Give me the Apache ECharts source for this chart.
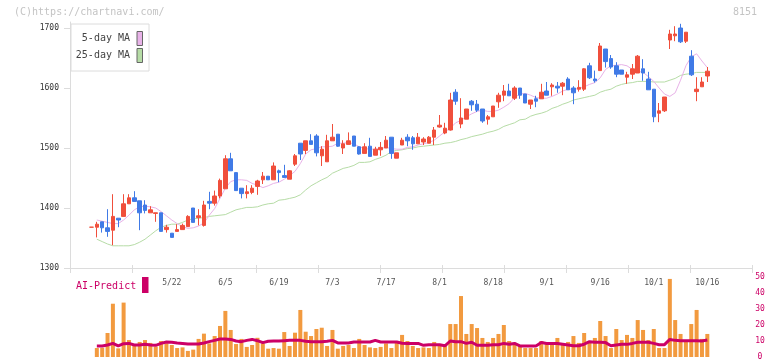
<!DOCTYPE html>
<html>
<head>
<meta charset="utf-8">
<script src="https://cdn.jsdelivr.net/npm/echarts@6/dist/echarts.min.js"></script>
<style>
html,body{margin:0;padding:0;background:#fff;}
#chart{width:772px;height:361px;}
</style>
</head>
<body>
<div id="chart"></div>
<script>
// ---------- data ----------
const dates = ['4/28','4/30','5/1','5/2','5/7','5/8','5/9','5/12','5/13','5/14','5/15','5/16','5/19','5/20','5/21','5/22','5/23','5/26','5/27','5/28','5/29','5/30',
'6/2','6/3','6/4','6/5','6/6','6/9','6/10','6/11','6/12','6/13','6/16','6/17','6/18','6/19','6/20','6/23','6/24','6/25','6/26','6/27','6/30',
'7/1','7/2','7/3','7/4','7/7','7/8','7/9','7/10','7/11','7/14','7/15','7/16','7/17','7/18','7/22','7/23','7/24','7/25','7/28','7/29','7/30','7/31',
'8/1','8/4','8/5','8/6','8/7','8/8','8/12','8/13','8/14','8/15','8/18','8/19','8/20','8/21','8/22','8/25','8/26','8/27','8/28','8/29',
'9/1','9/2','9/3','9/4','9/5','9/8','9/9','9/10','9/11','9/12','9/16','9/17','9/18','9/19','9/22','9/24','9/25','9/26','9/29','9/30',
'10/1','10/2','10/3','10/6','10/7','10/8','10/9','10/10','10/14','10/15','10/16'];

const labelDates = ['5/22','6/5','6/19','7/3','7/17','8/1','8/18','9/1','9/16','10/1','10/16'];
const priceTicks = [1300,1400,1500,1600,1700];
const volumeTicks = [0,10,20,30,40,50];

const openP = [1368,1368,1377,1367,1363,1383,1386,1407,1417,1412,1405,1392,1391,1392,1364,1358,1361,1364,1369,1400,1384,1371,
1411,1408,1420,1432,1482,1459,1433,1424,1426,1436,1447,1453,1447,1462,1454,1448,1473,1508,1496,1512,1520,
1487,1477,1512,1523,1500,1506,1520,1502,1491,1503,1488,1497,1500,1518,1483,1505,1518,1517,1507,1510,1508,1518,
1535,1525,1530,1593,1540,1548,1578,1573,1565,1548,1552,1577,1588,1595,1583,1600,1590,1573,1582,1582,
1595,1602,1603,1603,1615,1600,1598,1598,1637,1615,1629,1665,1649,1637,1630,1618,1623,1625,1632,1615,
1598,1558,1562,1680,1687,1700,1678,1653,1594,1602,1620];
const closeP = [1368,1373,1367,1361,1386,1380,1407,1417,1411,1392,1396,1397,1392,1361,1368,1351,1364,1371,1386,1376,1387,1405,
1408,1420,1446,1482,1462,1429,1424,1427,1433,1445,1453,1447,1470,1459,1451,1462,1487,1490,1512,1506,1492,
1498,1512,1518,1503,1507,1512,1503,1490,1502,1486,1498,1501,1513,1491,1492,1513,1512,1507,1518,1515,1518,1530,
1538,1533,1580,1578,1550,1565,1572,1563,1545,1552,1570,1588,1595,1587,1600,1588,1575,1580,1578,1593,
1588,1605,1600,1608,1597,1592,1601,1632,1617,1612,1670,1644,1635,1623,1623,1622,1632,1653,1625,1597,
1552,1562,1585,1690,1690,1677,1693,1622,1598,1610,1628];
const lowP = [1368,1351,1359,1352,1338,1368,1386,1407,1411,1363,1391,1392,1377,1361,1359,1351,1361,1364,1369,1376,1371,1369,
1398,1404,1416,1432,1462,1429,1416,1416,1423,1422,1440,1447,1447,1443,1451,1448,1470,1480,1490,1506,1486,
1470,1477,1512,1502,1490,1506,1503,1489,1491,1486,1488,1487,1500,1482,1483,1505,1503,1497,1507,1505,1508,1505,
1534,1523,1529,1572,1533,1548,1562,1560,1542,1539,1552,1567,1578,1587,1580,1582,1575,1565,1568,1582,
1588,1587,1592,1588,1597,1573,1594,1595,1615,1609,1629,1634,1632,1618,1623,1607,1615,1625,1612,1597,
1543,1543,1560,1665,1678,1675,1675,1620,1578,1602,1610];
const highP = [1368,1377,1377,1398,1423,1383,1423,1423,1428,1412,1413,1403,1392,1392,1372,1358,1373,1374,1388,1400,1398,1412,
1427,1429,1449,1488,1492,1459,1433,1438,1438,1447,1460,1453,1476,1464,1472,1463,1490,1508,1512,1523,1523,
1503,1522,1540,1523,1513,1526,1520,1503,1508,1517,1502,1510,1520,1518,1492,1517,1523,1520,1525,1518,1520,1535,
1555,1542,1592,1598,1583,1565,1580,1580,1565,1555,1570,1592,1605,1607,1603,1600,1590,1580,1587,1607,
1610,1608,1610,1610,1618,1603,1613,1633,1642,1629,1675,1665,1655,1643,1630,1627,1640,1655,1648,1627,
1598,1575,1585,1697,1703,1707,1693,1663,1618,1618,1635];

const ma5 = [null,1380,1378,1376,1374,1374,1380,1388,1397,1402,1403,1402,1400,1394,1387,1380,1374,1369,1366,1367,1370,1375,
1388,1399,1416,1433,1444,1447,1447,1446,1441,1438,1434,1437,1441,1443,1448,1454,1461,1474,1490,1497,1499,
1502,1502,1503,1508,1508,1509,1507,1502,1499,1498,1498,1499,1501,1499,1498,1498,1501,1502,1505,1507,1509,1513,
1520,1527,1533,1542,1546,1552,1557,1561,1563,1561,1561,1563,1568,1574,1584,1590,1591,1588,1584,1583,
1583,1586,1590,1595,1598,1598,1599,1602,1606,1609,1617,1631,1637,1638,1639,1637,1631,1628,1626,1619,
1611,1600,1590,1586,1592,1613,1637,1652,1657,1645,1634];
const ma25 = [null,1348,1344,1340,1337,1337,1337,1337,1339,1343,1348,1355,1362,1368,1371,1373,1373,1376,1380,1382,1383,1384,
1386,1387,1388,1389,1393,1397,1399,1401,1401,1402,1405,1407,1408,1413,1414,1416,1418,1422,1430,1437,1442,
1447,1451,1458,1462,1466,1468,1471,1476,1476,1477,1481,1484,1488,1494,1496,1497,1499,1500,1502,1503,1504,1505,
1506,1508,1509,1511,1514,1516,1519,1521,1523,1526,1528,1531,1536,1539,1542,1547,1548,1553,1556,1558,
1561,1566,1569,1573,1576,1580,1582,1584,1586,1588,1593,1596,1598,1603,1606,1608,1609,1611,1611,1611,
1610,1610,1610,1613,1616,1621,1623,1624,1626,1626,1626];

const volume = [null,5.6,5.8,15,33.3,5.4,34,10.6,7.5,9.4,10.6,8.8,6.5,10,8.5,7.5,5.6,6,3.8,4.6,11.3,14.6,
8.5,13.1,19.4,28.8,16.9,8.1,11.3,6.3,7.5,12,8.5,5.2,5.6,5.2,15.6,6.9,15.2,29.4,15.8,13.1,17.5,
18.3,6.9,16.9,5.2,6.9,7.5,5.6,11.3,7.5,6,5.6,6.3,8.5,5.6,9.2,13.8,10,6.9,5.6,6,5.6,9.4,
8.1,7,20.6,20.6,38.1,14.4,20.6,18.1,11.9,9.4,11.9,14.4,20,10,8.8,6.9,5.6,5.6,5.6,10,
8.8,8.1,11.9,8.1,9.4,13.1,8.8,15,8.8,11.9,22.5,13.1,5.6,17.5,10.6,13.8,11.9,23.1,16.9,10.6,
17.5,5.6,5.6,48.8,23.1,14.4,10,20.6,29.4,11.3,14.4];
const aiPredict = [null,6.9,6.9,7.5,8.5,6.9,8.3,8.5,7.5,7.5,7.9,7.5,7.3,8.5,9.4,9.2,8.8,8.5,8.1,8.1,8.1,8.8,
9.6,10.4,11.2,11.2,11,10,9.6,10.4,11,10.2,9,9.8,10,10,10.2,10.4,10.4,10.4,9.8,9.6,9.6,
9.6,9.8,10.4,8.8,8.8,8.8,9.4,9.4,9.4,9.4,10.4,9.4,9.4,9.4,9.4,8.6,8.5,8.5,8.5,7.3,7.7,7.7,
7.7,7,10,9.6,9.6,8.5,9.2,7.3,7.3,7.3,7.7,7.7,8.5,8,8.5,6.9,6.9,6.9,6.9,9,
8.5,8.5,8.5,8,7.5,7,7,8,9.6,9.2,9.2,9,7,7.5,7.9,7.9,8.5,9.2,9.2,9.2,
8.5,7.7,7.7,11,10.4,10.2,10.2,10.2,10.2,10,10.6];

// ---------- chart ----------
const RED = '#f04f3c', BLUE = '#407ae6', PINK = '#e8b2e8', GREEN = '#b6dca6', MAG = '#cc0066';
const MONO = '"DejaVu Sans Mono", monospace';
const candles = dates.map((d, i) => [openP[i], closeP[i], lowP[i], highP[i]]);

const chart = echarts.init(document.getElementById('chart'), null, {renderer: 'canvas'});
chart.setOption({
  animation: false,
  backgroundColor: '#fff',
  grid: [
    {left: 70, right: 20, top: 22, bottom: 93},
    {left: 88.8, right: 62, top: 22, bottom: 93},
    {left: 88.8, right: 62, top: 277, bottom: 4}
  ],
  xAxis: [
    {gridIndex: 0, type: 'value', min: 0, max: 11, interval: 1, position: 'bottom',
     axisLine: {lineStyle: {color: '#dcdcdc', width: 1}},
     axisTick: {length: 5, lineStyle: {color: '#dcdcdc'}},
     axisLabel: {show: false}, splitLine: {show: false}},
    {gridIndex: 0, type: 'value', min: 0, max: 11, interval: 1, position: 'bottom',
     axisLine: {show: false},
     axisTick: {inside: true, length: 3, lineStyle: {color: '#dcdcdc'}},
     axisLabel: {show: false}, splitLine: {show: false}},
    {gridIndex: 1, type: 'category', data: dates, boundaryGap: true,
     axisLine: {show: false}, axisTick: {show: false}, splitLine: {show: false},
     axisLabel: {
       interval: (idx, val) => labelDates.indexOf(val) >= 0,
       margin: 11, color: '#555', fontSize: 8, fontFamily: MONO
     }},
    {gridIndex: 2, type: 'category', data: dates, boundaryGap: true, show: false}
  ],
  yAxis: [
    {gridIndex: 0, type: 'value', min: 1300, max: 1710,
     axisLine: {show: true, lineStyle: {color: '#dcdcdc'}},
     axisTick: {show: true, length: 6, customValues: priceTicks, lineStyle: {color: '#dcdcdc'}},
     axisLabel: {customValues: priceTicks, formatter: v => String(v), color: '#333', fontSize: 8, fontFamily: MONO, margin: 11},
     splitLine: {show: false}},
    {gridIndex: 1, type: 'value', min: 1300, max: 1710, show: false},
    {gridIndex: 2, type: 'value', min: 0, max: 50, interval: 10, position: 'right', offset: 40,
     axisLine: {show: false}, axisTick: {show: false}, splitLine: {show: false},
     axisLabel: {customValues: volumeTicks, formatter: v => String(v), color: MAG, fontSize: 8, fontFamily: MONO, align: 'center', margin: 10}}
  ],
  series: [
    {type: 'line', name: '25-day MA', xAxisIndex: 2, yAxisIndex: 1, data: ma25, showSymbol: false,
     lineStyle: {color: GREEN, width: 1}, z: 2},
    {type: 'line', name: '5-day MA', xAxisIndex: 2, yAxisIndex: 1, data: ma5, showSymbol: false,
     lineStyle: {color: PINK, width: 1}, z: 2},
    {type: 'candlestick', xAxisIndex: 2, yAxisIndex: 1, data: candles, barWidth: 4, z: 3,
     itemStyle: {color: RED, color0: BLUE, borderColor: RED, borderColor0: BLUE, borderWidth: 1}},
    {type: 'bar', xAxisIndex: 3, yAxisIndex: 2, data: volume, barWidth: 4,
     itemStyle: {color: '#f29a3f'}},
    {type: 'line', xAxisIndex: 3, yAxisIndex: 2, data: aiPredict, showSymbol: false,
     lineStyle: {color: MAG, width: 3}, z: 4}
  ],
  graphic: [
    {type: 'text', left: 14, top: 7, style: {text: '(C)https://chartnavi.com/', font: '10px ' + MONO, fill: '#c4c4c4'}},
    {type: 'text', right: 15, top: 7, style: {text: '8151', font: '10px ' + MONO, fill: '#c4c4c4'}},
    {type: 'rect', shape: {x: 71, y: 24, width: 78, height: 47}, style: {fill: '#fff', stroke: '#dcdcdc', lineWidth: 1}, z: 10},
    {type: 'text', x: 130, y: 38, z: 11, style: {text: '5-day MA', font: '10px ' + MONO, fill: '#444', align: 'right', verticalAlign: 'middle'}},
    {type: 'rect', shape: {x: 137, y: 31.5, width: 5.5, height: 14}, style: {fill: PINK, stroke: '#666', lineWidth: 1}, z: 11},
    {type: 'text', x: 130, y: 55, z: 11, style: {text: '25-day MA', font: '10px ' + MONO, fill: '#444', align: 'right', verticalAlign: 'middle'}},
    {type: 'rect', shape: {x: 137, y: 48.5, width: 5.5, height: 14}, style: {fill: GREEN, stroke: '#666', lineWidth: 1}, z: 11},
    {type: 'text', x: 76, y: 286, z: 11, style: {text: 'AI-Predict', font: '10px ' + MONO, fill: MAG, verticalAlign: 'middle'}},
    {type: 'rect', shape: {x: 142, y: 277, width: 6.5, height: 16}, style: {fill: MAG}, z: 11}
  ]
});
</script>
</body>
</html>
